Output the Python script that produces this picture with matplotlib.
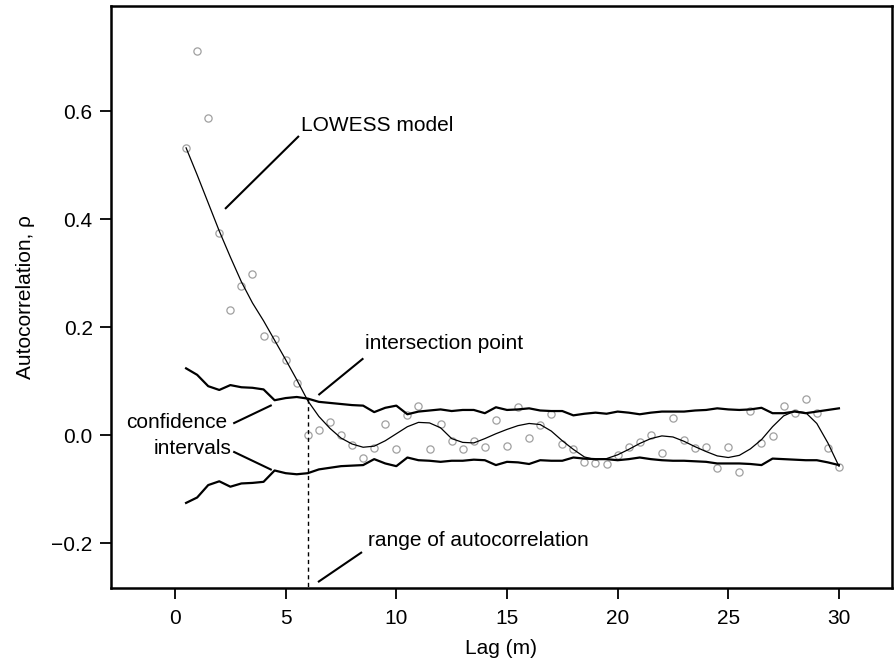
import matplotlib
matplotlib.use("Agg")
import matplotlib.pyplot as plt
import numpy as np

# === DATA ===

lags = np.arange(1, 61) * 0.5  # 0.5 ... 30.0 m

acf_points = [
    0.532, 0.711, 0.587, 0.375, 0.232, 0.276, 0.298, 0.184, 0.179, 0.140,
    0.097, 0.000, 0.010, 0.025, 0.000, -0.017, -0.041, -0.023, 0.021, -0.026,
    0.037, 0.054, -0.026, 0.021, -0.011, -0.026, -0.010, -0.022, 0.028, -0.020,
    0.052, -0.004, 0.019, 0.039, -0.016, -0.025, -0.050, -0.051, -0.053, -0.037,
    -0.022, -0.012, 0.001, -0.033, 0.033, -0.009, -0.024, -0.022, -0.061, -0.021,
    -0.067, 0.045, -0.014, -0.002, 0.055, 0.041, 0.067, 0.042, -0.024, -0.058,
]

lowess_curve = [
    0.532, 0.482, 0.430, 0.378, 0.330, 0.284, 0.245, 0.212, 0.176, 0.140,
    0.103, 0.064, 0.035, 0.013, -0.005, -0.016, -0.022, -0.020, -0.010, 0.003,
    0.016, 0.024, 0.023, 0.014, -0.006, -0.013, -0.014, -0.006, 0.003, 0.011,
    0.018, 0.022, 0.020, 0.008, -0.010, -0.026, -0.040, -0.045, -0.043, -0.036,
    -0.026, -0.015, -0.006, -0.001, -0.003, -0.011, -0.021, -0.030, -0.038, -0.041,
    -0.037, -0.025, -0.008, 0.016, 0.036, 0.045, 0.042, 0.022, -0.014, -0.057,
]

ci_upper = [
    0.124, 0.112, 0.091, 0.084, 0.093, 0.089, 0.088, 0.085, 0.065, 0.069,
    0.071, 0.068, 0.062, 0.060, 0.058, 0.056, 0.055, 0.043, 0.051, 0.055,
    0.039, 0.044, 0.046, 0.048, 0.045, 0.047, 0.047, 0.041, 0.052, 0.047,
    0.048, 0.050, 0.046, 0.045, 0.045, 0.037, 0.040, 0.042, 0.040, 0.044,
    0.042, 0.039, 0.042, 0.044, 0.044, 0.044, 0.046, 0.047, 0.050, 0.048,
    0.047, 0.048, 0.051, 0.041, 0.041, 0.044, 0.041, 0.044, 0.047, 0.050,
]

ci_lower = [
    -0.125, -0.115, -0.092, -0.085, -0.095, -0.089, -0.088, -0.086, -0.065, -0.070,
    -0.072, -0.070, -0.063, -0.060, -0.057, -0.056, -0.055, -0.044, -0.052, -0.057,
    -0.041, -0.046, -0.047, -0.049, -0.047, -0.047, -0.045, -0.046, -0.055, -0.049,
    -0.050, -0.053, -0.046, -0.047, -0.047, -0.041, -0.043, -0.044, -0.044, -0.046,
    -0.044, -0.041, -0.044, -0.046, -0.047, -0.047, -0.048, -0.049, -0.052, -0.052,
    -0.052, -0.053, -0.055, -0.043, -0.044, -0.045, -0.046, -0.046, -0.050, -0.055,
]

range_lag = 6.0
range_rho = 0.067

x_ticks = [0, 5, 10, 15, 20, 25, 30]
y_ticks = [-0.2, 0.0, 0.2, 0.4, 0.6]

# === STYLE ===

plt.rcParams["font.family"] = ["Liberation Sans", "DejaVu Sans"]
FS = 15

fig = plt.figure(figsize=(8.95, 6.66), dpi=100)
ax = fig.add_axes([0.1237, 0.117, 0.873, 0.874])

# data points
ax.plot(lags, acf_points, linestyle="none", marker="o", markersize=5.2,
        markerfacecolor="none", markeredgecolor="#a0a0a0", markeredgewidth=0.9)

# LOWESS model
ax.plot(lags, lowess_curve, color="black", linewidth=0.9)

# confidence intervals
ax.plot(lags, ci_upper, color="black", linewidth=1.6)
ax.plot(lags, ci_lower, color="black", linewidth=1.6)

# range of autocorrelation
ax.plot([range_lag, range_lag], [range_rho, -0.29], color="black",
        linewidth=1.0, linestyle=(0, (3, 2.5)))

# --- annotations (text + leader lines) ---
line_kw = dict(color="black", linewidth=1.5, solid_capstyle="butt")

ax.text(5.68, 0.574, "LOWESS model", fontsize=FS, ha="left", va="center")
ax.plot([2.26, 5.6], [0.419, 0.554], **line_kw)

ax.text(8.59, 0.170, "intersection point", fontsize=FS, ha="left", va="center")
ax.plot([6.48, 8.51], [0.0746, 0.1425], **line_kw)

ax.text(2.34, 0.0233, "confidence", fontsize=FS, ha="right", va="center")
ax.plot([2.63, 4.37], [0.022, 0.056], **line_kw)

ax.text(2.56, -0.024, "intervals", fontsize=FS, ha="right", va="center")
ax.plot([2.63, 4.37], [-0.030, -0.064], **line_kw)

ax.text(8.73, -0.194, "range of autocorrelation", fontsize=FS, ha="left", va="center")
ax.plot([6.46, 8.45], [-0.2715, -0.216], **line_kw)

# --- axes ---
ax.set_xlim(-2.906, 32.4)
ax.set_ylim(-0.2826, 0.7945)
ax.set_xticks(x_ticks)
ax.set_yticks(y_ticks)
ax.set_xticklabels([str(t) for t in x_ticks])
ax.set_yticklabels(["\u22120.2", "0.0", "0.2", "0.4", "0.6"])
ax.tick_params(direction="out", length=8, width=1.3, labelsize=FS)
ax.tick_params(axis="x", pad=7)
ax.tick_params(axis="y", pad=5)
for sp in ax.spines.values():
    sp.set_linewidth(1.8)

ax.set_xlabel("Lag (m)", fontsize=FS, labelpad=8)
ax.set_ylabel("Autocorrelation, \u03c1", fontsize=FS, labelpad=12)

fig.savefig("out.png", dpi=100)
